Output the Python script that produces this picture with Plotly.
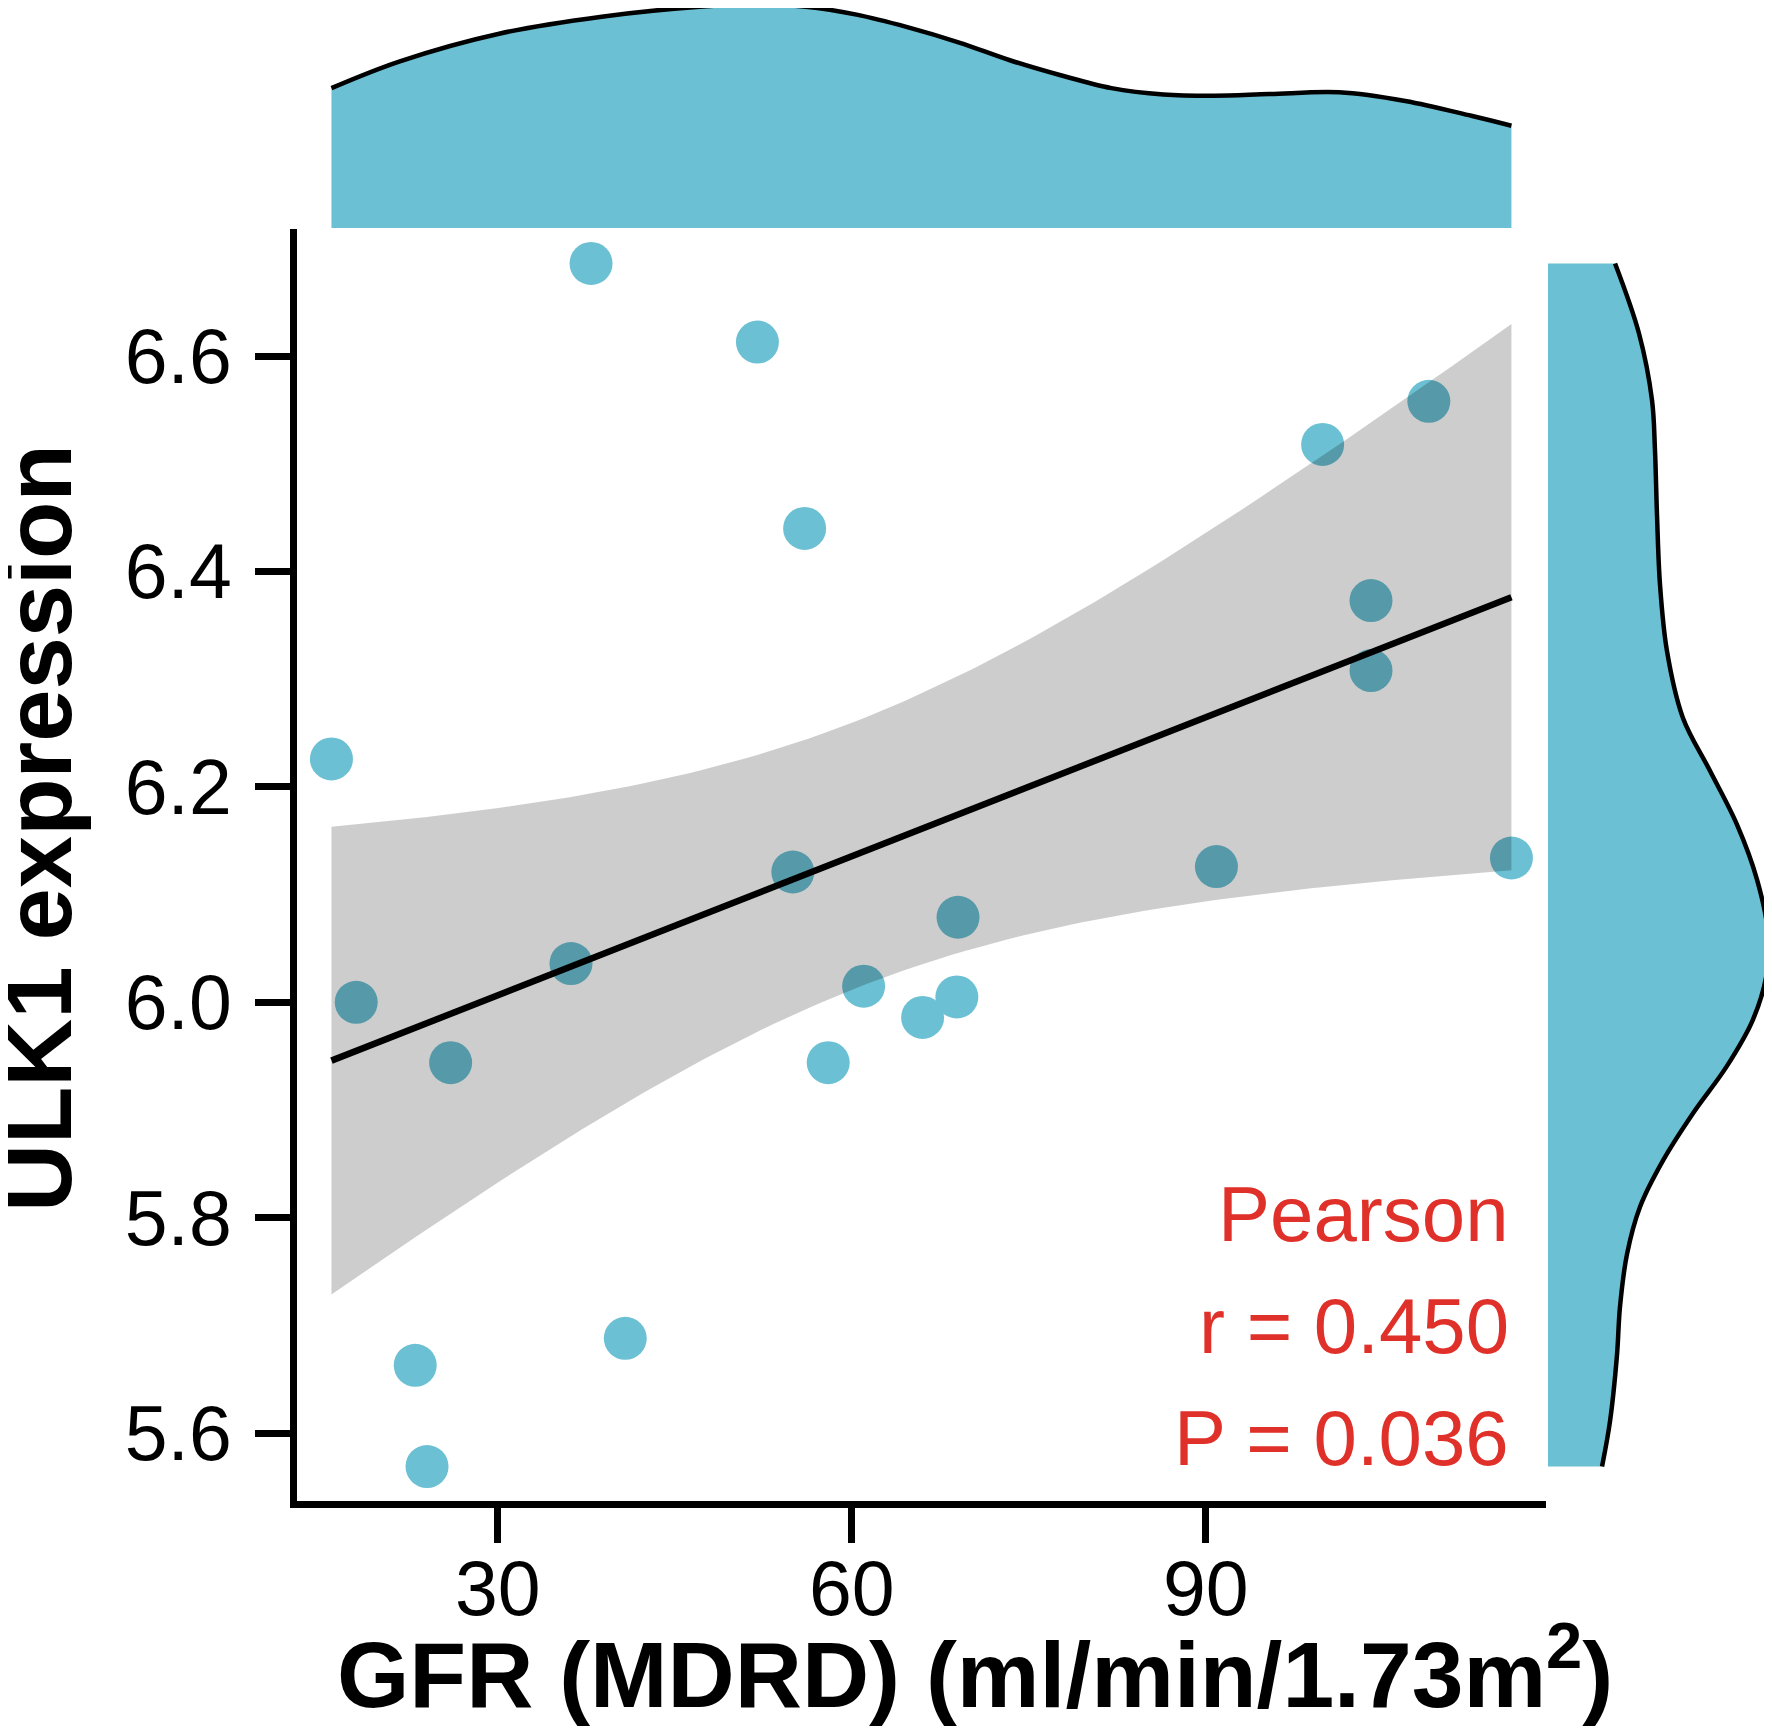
import numpy as np
import plotly.graph_objects as go

# scatter data
gfr = [37.9, 52.0, 56.0, 99.9, 108.9, 104.0, 104.0, 15.9, 55.0, 90.9, 115.9,
       69.0, 36.2, 18.0, 61.0, 68.9, 66.0, 26.0, 58.0, 40.8, 23.0, 24.0]
ulk1 = [6.686, 6.613, 6.440, 6.518, 6.558, 6.373, 6.308, 6.226, 6.121, 6.126, 6.134,
        6.079, 6.036, 6.000, 6.015, 6.005, 5.986, 5.944, 5.944, 5.688, 5.663, 5.569]

# marginal density curves
top_x = [15.9, 21.7, 30.2, 38.8, 47.1, 51.8, 56.1, 60.4, 64.7, 69.1, 73.4, 77.7,
         82.0, 86.4, 90.7, 95.4, 101.3, 106.9, 112.5, 115.9]
top_dens = [0.00773, 0.00921, 0.01075, 0.01168, 0.01223, 0.01236, 0.01223, 0.01179,
            0.01110, 0.01025, 0.00927, 0.00844, 0.00773, 0.00738, 0.00731, 0.00740,
            0.00750, 0.00702, 0.00620, 0.00565]
right_y = [6.686, 6.621, 6.559, 6.513, 6.451, 6.388, 6.326, 6.264, 6.215, 6.165, 6.114,
           6.065, 6.028, 5.984, 5.941, 5.897, 5.853, 5.810, 5.766, 5.717, 5.673, 5.611, 5.569]
right_dens = [0.479, 0.650, 0.743, 0.764, 0.779, 0.800, 0.850, 0.964, 1.157, 1.350, 1.493,
              1.571, 1.564, 1.464, 1.279, 1.036, 0.821, 0.657, 0.564, 0.514, 0.493, 0.443, 0.386]

x_ticks = [30, 60, 90]
y_ticks = [5.6, 5.8, 6.0, 6.2, 6.4, 6.6]
stats_lines = ["Pearson", "r = 0.450", "P = 0.036"]

BLUE = "#6BC0D3"
RED = "#E0302A"
FONT = "Arial, Liberation Sans, sans-serif"
W, H = 1772, 1734
OFF = 8  # default page margin around the plot div

# linear fit with 95% confidence band
x = np.array(gfr)
y = np.array(ulk1)
n = len(x)
slope, intercept = np.polyfit(x, y, 1)
resid = y - (intercept + slope * x)
s = np.sqrt(np.sum(resid ** 2) / (n - 2))
t_crit = 2.086  # t(0.975, df=20)
grid = np.linspace(x.min(), x.max(), 100)
fit = intercept + slope * grid
half = t_crit * s * np.sqrt(1 / n + (grid - x.mean()) ** 2 / np.sum((x - x.mean()) ** 2))


def px_x(p):
    return (p - OFF) / W


def px_y(p):
    return 1 - (p - OFF) / H


fig = go.Figure()

fig.add_trace(go.Scatter(
    x=gfr, y=ulk1, mode="markers",
    marker=dict(size=43, color=BLUE, line=dict(width=0)),
    xaxis="x", yaxis="y", hoverinfo="skip"))

fig.add_trace(go.Scatter(
    x=np.concatenate([grid, grid[::-1]]),
    y=np.concatenate([fit + half, (fit - half)[::-1]]),
    fill="toself", fillcolor="rgba(0,0,0,0.195)", line=dict(width=0),
    mode="lines", xaxis="x", yaxis="y", hoverinfo="skip"))

fig.add_trace(go.Scatter(
    x=grid, y=fit, mode="lines", line=dict(color="black", width=6.5),
    xaxis="x", yaxis="y", hoverinfo="skip"))

# top marginal density
fig.add_trace(go.Scatter(
    x=top_x, y=top_dens, mode="lines", fill="tozeroy", fillcolor=BLUE,
    line=dict(color="black", width=4.5, shape="spline"),
    xaxis="x2", yaxis="y2", hoverinfo="skip"))

# right marginal density
fig.add_trace(go.Scatter(
    x=right_dens, y=right_y, mode="lines", fill="tozerox", fillcolor=BLUE,
    line=dict(color="black", width=4.5, shape="spline"),
    xaxis="x3", yaxis="y", hoverinfo="skip"))

axis_common = dict(showgrid=False, zeroline=False, showline=True, linecolor="black",
                   linewidth=6.5, ticks="outside", ticklen=35, tickwidth=6.5,
                   tickcolor="black", tickfont=dict(family=FONT, size=77, color="black"))

fig.update_layout(
    width=W, height=H,
    margin=dict(l=0, r=0, t=0, b=0),
    paper_bgcolor="white", plot_bgcolor="white",
    showlegend=False,
    xaxis=dict(domain=[px_x(297), px_x(1546)], range=[12.98, 118.83],
               tickvals=x_ticks, ticklabelstandoff=-20, anchor="y", **axis_common),
    yaxis=dict(domain=[px_y(1501), px_y(229)], range=[5.537, 6.718],
               tickvals=y_ticks, tickformat=".1f", ticklabelstandoff=8,
               anchor="x", **axis_common),
    xaxis2=dict(domain=[px_x(297), px_x(1546)], matches="x", visible=False, anchor="y2"),
    yaxis2=dict(domain=[px_y(228), 1.0], range=[0, 0.0126 * (228 - OFF) / 228],
                visible=False, anchor="x2"),
    xaxis3=dict(domain=[px_x(1548), px_x(1772)], range=[0, 1.6], visible=False, anchor="y"),
)

annotations = [
    dict(text="<b>ULK1 expression</b>", textangle=-90, x=px_x(38), y=px_y(828),
         xref="paper", yref="paper", xanchor="center", yanchor="middle",
         showarrow=False, font=dict(family=FONT, size=94, color="black")),
    dict(text="<b>GFR (MDRD) (ml/min/1.73m<sup>2</sup>)</b>", x=px_x(975), y=px_y(1668),
         xref="paper", yref="paper", xanchor="center", yanchor="middle",
         showarrow=False, font=dict(family=FONT, size=93, color="black")),
]
for i, line in enumerate(stats_lines):
    annotations.append(dict(
        text=line, x=px_x(1511), y=px_y(1214 + 112 * i), xref="paper", yref="paper",
        xanchor="right", yanchor="middle", showarrow=False,
        font=dict(family=FONT, size=78, color=RED)))
fig.update_layout(annotations=annotations)

fig.write_html("out.html")
